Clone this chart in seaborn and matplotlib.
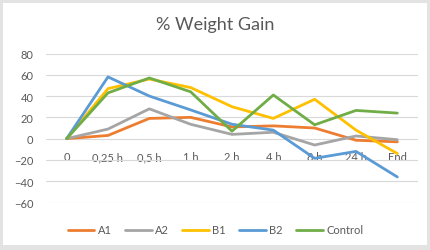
import matplotlib
matplotlib.use("Agg")
import matplotlib.pyplot as plt
import seaborn as sns
import pandas as pd
from matplotlib.patches import Rectangle

categories = ["0", "0,25 h", "0,5 h", "1 h", "2 h", "4 h", "8 h", "24 h", "End"]
series_names = ["A1", "A2", "B1", "B2", "Control"]
a1 = [0, 3, 19, 20, 11, 12, 10, -1.5, -3]
a2 = [0, 9, 28, 13.5, 4, 6, -6, 2.5, -1]
b1 = [0, 47, 56, 48, 30, 19, 37, 8, -14]
b2 = [0, 58, 40, 27, 13.5, 8, -18.5, -12, -36]
control = [0, 43, 57, 44, 7, 41, 13, 26.5, 24]
colors = ["#ED7D31", "#A5A5A5", "#FFC000", "#5B9BD5", "#70AD47"]

rows = []
for name, vals in zip(series_names, [a1, a2, b1, b2, control]):
    for i, v in enumerate(vals):
        rows.append({"pos": i, "value": v, "series": name})
df = pd.DataFrame(rows)

sns.set_theme(style="white")
plt.rcParams["font.family"] = ["Lato", "DejaVu Sans"]
txt = "#595959"

fig = plt.figure(figsize=(4.31, 2.51), dpi=100)
fig.patch.set_facecolor("#e3e3e3")
fig.patches.append(Rectangle((3 / 431, 5 / 251), 424 / 431, 242 / 251,
                             transform=fig.transFigure, facecolor="white",
                             edgecolor="none", zorder=-10))

ax = fig.add_axes([46 / 431, 1 - 203.5 / 251, 372 / 431, 149 / 251])
ax.set_facecolor("none")
sns.lineplot(data=df, x="pos", y="value", hue="series", hue_order=series_names,
             palette=colors, sort=False, linewidth=2.0, ax=ax, legend=True)

ax.set_xlim(-0.5, 8.5)
ax.set_ylim(-60, 80)
ax.set_yticks(range(-60, 81, 20))
ax.set_xticks(range(len(categories)))
ax.set_xticklabels(categories)
ax.grid(axis="y", color="#d9d9d9", linewidth=0.8)
ax.set_axisbelow(True)
for s in ax.spines.values():
    s.set_visible(False)
ax.spines["bottom"].set_position(("data", 0))
ax.tick_params(axis="x", length=0, pad=9, labelsize=8, labelcolor=txt)
ax.tick_params(axis="y", length=0, pad=9, labelsize=8, labelcolor=txt)
ax.set_xlabel("")
ax.set_ylabel("")

fig.text(0.5, 1 - 25 / 251, "% Weight Gain", ha="center", va="center",
         fontsize=13, color=txt)

handles, labels = ax.get_legend_handles_labels()
ax.legend(handles, labels, loc="center", bbox_to_anchor=(0.5, -0.12 - 0.0),
          bbox_transform=fig.transFigure, ncol=5, frameon=False, fontsize=8,
          handlelength=2.4, handletextpad=0.3, columnspacing=1.2,
          labelcolor=txt)
leg = ax.get_legend()
leg.set_bbox_to_anchor((0.5, 1 - 231 / 251), transform=fig.transFigure)

fig.savefig("out.png", dpi=100, facecolor=fig.get_facecolor())
